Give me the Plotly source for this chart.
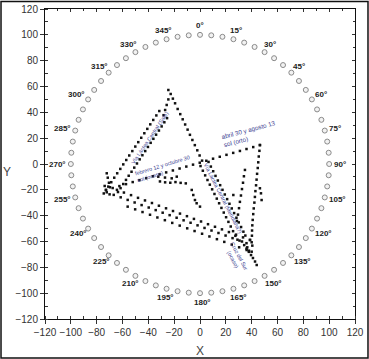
import math
import plotly.graph_objects as go

# ---------------- data ----------------
HORIZON_AZ = [0, 5, 10, 15, 20, 25, 30, 35, 40, 45, 50, 55, 60, 65, 70, 75, 80, 85,
              90, 95, 100, 105, 110, 115, 120, 125, 130, 135, 140, 145, 150, 155, 160, 165, 170, 175,
              180, 185, 190, 195, 200, 205, 210, 215, 220, 225, 230, 235, 240, 245, 250, 255, 260, 265,
              270, 275, 280, 285, 290, 295, 300, 305, 310, 315, 320, 325, 330, 335, 340, 345, 350, 355]
HORIZON_R = 100
LABEL_AZ = [0, 15, 30, 45, 60, 75, 90, 105, 120, 135, 150, 165,
            180, 195, 210, 225, 240, 255, 270, 285, 300, 315, 330, 345]

# apex -> top of the "Sale" band
APEX_X = [-24.5, -24.5, -25.8, -27.0, -28.2]
APEX_Y = [57.3, 50.0, 45.7, 41.8, 37.8]

# Vía Láctea (Sale) band, two lines
SALE_A_X = [-31.5, -33.8, -36.2, -38.5, -40.8, -43.1, -45.5, -47.8, -50.1, -52.4, -54.8, -57.1,
            -59.4, -61.7, -64.1, -66.4, -68.7, -71.0, -72.8]
SALE_A_Y = [41.0, 37.6, 34.1, 30.7, 27.2, 23.8, 20.3, 16.9, 13.5, 10.0, 6.6, 3.1,
            -0.3, -3.8, -7.2, -10.6, -14.1, -17.5, -20.1]
SALE_B_X = [-25.5, -27.6, -29.7, -31.8, -34.0, -36.1, -38.2, -40.3, -42.4, -44.6, -46.7, -48.8,
            -50.9, -53.0, -55.2, -57.3, -59.4, -61.5, -63.5]
SALE_B_Y = [35.5, 32.3, 29.1, 25.9, 22.7, 19.5, 16.4, 13.2, 10.0, 6.8, 3.6, 0.4,
            -2.8, -6.0, -9.1, -12.3, -15.5, -18.7, -21.7]

# Vía Láctea (Meridiana): single upper part, double middle part, single lower part
MER_U_X = [-22.7, -21.0, -19.3, -17.3, -15.3, -13.4, -11.5, -9.6, -7.8, -5.9, -4.0, -2.1, -0.3, 1.6]
MER_U_Y = [54.2, 50.6, 47.0, 42.6, 38.6, 34.6, 30.6, 26.6, 22.6, 18.6, 14.6, 10.6, 6.6, 2.6]
MER_L_X = [0.4, 2.2, 4.0, 5.8, 7.6, 9.4, 11.2, 13.0, 14.8, 16.6, 18.4, 20.2, 22.0, 23.8, 25.6,
           27.4, 29.0]
MER_L_Y = [-1.6, -5.2, -8.8, -12.4, -16.0, -19.6, -23.2, -26.8, -30.4, -34.0, -37.6, -41.2, -44.8,
           -48.4, -52.0, -55.6, -58.6]
MER_R_X = [6.6, 8.4, 10.2, 12.0, 13.8, 15.6, 17.4, 19.2, 21.0, 22.8, 24.6, 26.4, 28.2, 30.0, 31.8,
           33.6, 35.1]
MER_R_Y = [1.6, -2.0, -5.6, -9.2, -12.8, -16.4, -20.0, -23.6, -27.2, -30.8, -34.4, -38.0, -41.6,
           -45.2, -48.8, -52.4, -55.4]
MER_D_X = [32.5, 34.2, 36.0, 37.8, 39.5, 41.0, 42.6, 43.9]
MER_D_Y = [-60.0, -62.8, -65.5, -68.0, -70.5, -72.8, -75.5, -78.2]

# sun line (ocaso feb 12 / oct 30 - orto abr 30 / ago 13)
SUN_X = [-72.8, -67.6, -62.4, -57.3, -52.1, -46.9, -41.7, -36.5, -31.3, -26.2, -21.0, -15.8,
         -10.6, -5.4, -0.2, 4.9, 10.1, 15.3, 20.5, 25.7, 30.9, 36.0, 41.2, 46.4]
SUN_Y = [-20.1, -18.6, -17.1, -15.6, -14.0, -12.5, -11.0, -9.5, -8.0, -6.5, -5.0, -3.5,
         -2.0, -0.5, 1.0, 2.5, 4.1, 5.6, 7.1, 8.6, 10.1, 11.6, 13.1, 14.6]

# right column
RCOL_X = [46.4, 46.0, 45.5, 45.1, 44.7, 44.2, 43.8, 43.4, 42.9, 42.5, 42.1, 41.6, 41.2, 40.8]
RCOL_Y = [14.7, 10.2, 5.8, 1.3, -3.1, -7.6, -12.1, -16.5, -21.0, -25.5, -29.9, -34.4, -38.8, -43.3]
RCOL2_X = [46.4, 47.2, 47.7]
RCOL2_Y = [-18.8, -22.7, -27.9]
ICOL_X = [34.8, 34.0, 33.3, 32.5, 31.7, 30.9, 30.2, 29.4, 28.6]
ICOL_Y = [-4.6, -9.5, -14.5, -19.4, -24.4, -29.3, -34.2, -39.2, -44.1]

# lower lines from the western vertex
LOW1_X = [-69.7, -64.3, -58.9, -53.4, -48.0, -42.6, -37.2, -31.8, -26.3, -20.9, -15.5, -10.1,
          -4.7, 0.8, 6.2, 11.6, 17.0, 22.4, 27.9, 33.3, 38.7]
LOW1_Y = [-18.0, -20.0, -22.1, -24.1, -26.2, -28.2, -30.2, -32.3, -34.3, -36.4, -38.4, -40.4,
          -42.5, -44.5, -46.6, -48.6, -50.6, -52.7, -54.7, -56.8, -58.8]
LOW2_X = [-72.2, -66.8, -61.4, -56.0, -50.6, -45.2, -39.7, -34.3, -28.9, -23.5, -18.1, -12.7,
          -7.3, -1.9, 3.5, 8.9, 14.3, 19.8, 25.2, 30.6, 36.0]
LOW2_Y = [-21.9, -23.9, -25.8, -27.8, -29.8, -31.8, -33.7, -35.7, -37.7, -39.6, -41.6, -43.6,
          -45.5, -47.5, -49.5, -51.5, -53.4, -55.4, -57.4, -59.3, -61.3]
LOW3_X = [-56.0, -50.2, -44.5, -38.7, -33.0, -27.2, -21.5, -15.7, -9.9, -4.2, 1.6, 7.3,
          13.1, 18.8, 24.6, 30.3, 36.1]
LOW3_Y = [-33.0, -35.1, -37.2, -39.3, -41.4, -43.5, -45.6, -47.7, -49.8, -51.9, -54.0, -56.1,
          -58.2, -60.3, -62.4, -64.5, -66.6]

# scattered interior dots and vertex clusters
INNER_X = [-31.0, -27.0, -23.0, -19.0, -15.0, -11.0, -32.3, -27.1, -21.9, -18.0,
           -6.4, -5.2, -3.9, -2.6, 0.0, 25.8]
INNER_Y = [-13.5, -14.2, -14.5, -14.0, -14.6, -15.0, -9.8, -10.5, -11.1, -9.8,
           -20.1, -24.0, -27.9, -30.4, -33.0, -24.0]
WEST_X = [-72.2, -71.4, -70.5, -73.8, -74.5, -70.0]
WEST_Y = [-7.2, -10.6, -14.5, -17.0, -22.8, -23.5]
SOUTH_X = [38.7, 40.0, 40.5, 40.0, 37.9, 36.6, 40.5, 40.3, 40.2]
SOUTH_Y = [-58.8, -60.6, -63.2, -67.9, -67.1, -64.5, -47.5, -51.5, -55.5]

DOT_SERIES = [
    (APEX_X, APEX_Y), (SALE_A_X, SALE_A_Y), (SALE_B_X, SALE_B_Y),
    (MER_U_X, MER_U_Y), (MER_L_X, MER_L_Y), (MER_R_X, MER_R_Y), (MER_D_X, MER_D_Y),
    (SUN_X, SUN_Y), (RCOL_X, RCOL_Y), (RCOL2_X, RCOL2_Y), (ICOL_X, ICOL_Y),
    (LOW1_X, LOW1_Y), (LOW2_X, LOW2_Y), (LOW3_X, LOW3_Y),
    (INNER_X, INNER_Y), (WEST_X, WEST_Y), (SOUTH_X, SOUTH_Y),
]

# ---------------- figure ----------------
fig = go.Figure()

hx = [HORIZON_R * math.sin(math.radians(a)) for a in HORIZON_AZ]
hy = [HORIZON_R * math.cos(math.radians(a)) for a in HORIZON_AZ]
fig.add_trace(go.Scatter(
    x=hx, y=hy, mode="markers", hoverinfo="skip",
    marker=dict(symbol="circle", size=5, color="#f2f2f2", line=dict(color="#8a8a8a", width=1)),
))

for sx, sy in DOT_SERIES:
    fig.add_trace(go.Scatter(
        x=sx, y=sy, mode="markers", hoverinfo="skip",
        marker=dict(symbol="square", size=2.5, color="#111111", line=dict(width=0)),
    ))

# dummy trace for mirrored (top/right) axes
fig.add_trace(go.Scatter(x=[None], y=[None], xaxis="x2", yaxis="y2", showlegend=False))

annotations = []
for a in LABEL_AZ:
    txt = f"{a}°"
    w = 4.7 * len(txt)
    s, c = math.sin(math.radians(a)), math.cos(math.radians(a))
    annotations.append(dict(
        x=HORIZON_R * s, y=HORIZON_R * c, text=f"<b>{txt}</b>", showarrow=False,
        xanchor="center", yanchor="middle",
        xshift=s * (4 + w / 2) + (2 if c < -0.5 else 0), yshift=c * 9,
        font=dict(family="Liberation Sans, Arial", size=8, color="#222222"),
    ))

note_font = dict(family="Liberation Sans, Arial", size=5.5, color="#3d3f92")
annotations += [
    dict(x=-39.0, y=20.1, text="Vía Láctea Central (Sale)", textangle=-56,
         showarrow=False, font=note_font),
    dict(x=17.6, y=-26.5, text="Vía Láctea Central (Meridiana?)", textangle=63,
         showarrow=False, font=note_font),
    dict(x=-28.0, y=-3.6, text="febrero 12 y octubre 30<br>sol (ocaso)", textangle=-17,
         align="left", showarrow=False, font=note_font),
    dict(x=38.5, y=23.0, text="abril 30 y agosto 13<br>sol (orto)", textangle=-15,
         align="left", showarrow=False, font=dict(note_font, size=6.3)),
    dict(x=28.5, y=-72.8, text="Cruz del Sur<br>(ocaso)", textangle=62,
         showarrow=False, font=note_font),
    dict(xref="paper", yref="paper", x=0.5, y=-0.102, text="X", showarrow=False,
         xanchor="center", yanchor="middle",
         font=dict(family="Liberation Sans, Arial", size=12, color="#444444")),
    dict(xref="paper", yref="paper", x=-0.1235, y=0.474, text="Y", showarrow=False,
         xanchor="center", yanchor="middle",
         font=dict(family="Liberation Sans, Arial", size=12, color="#444444")),
]

axis_common = dict(
    range=[-120, 120], dtick=20, tick0=0, showgrid=False, zeroline=False,
    showline=True, linecolor="#111111", linewidth=1, automargin=False,
    tickfont=dict(family="Liberation Sans, Arial", size=10, color="#333333"),
)
fig.update_layout(
    width=369, height=359,
    margin=dict(l=45, r=14, t=9, b=40, autoexpand=False),
    paper_bgcolor="white", plot_bgcolor="white",
    showlegend=False,
    xaxis=dict(axis_common, ticks="outside", ticklen=4, tickcolor="#333333", mirror=True,
               minor=dict(ticks="inside", dtick=10, ticklen=3, tickcolor="#333333")),
    yaxis=dict(axis_common, ticks="outside", ticklen=4, tickcolor="#333333", mirror=True,
               minor=dict(ticks="inside", dtick=10, ticklen=3, tickcolor="#333333")),
    xaxis2=dict(range=[-120, 120], dtick=20, tick0=0, overlaying="x", side="top", anchor="y",
                showgrid=False, zeroline=False, showticklabels=False, ticks="inside",
                ticklen=3, tickcolor="#333333", automargin=False,
                minor=dict(ticks="inside", dtick=10, ticklen=2, tickcolor="#333333")),
    yaxis2=dict(range=[-120, 120], dtick=20, tick0=0, overlaying="y", side="right", anchor="x",
                showgrid=False, zeroline=False, showticklabels=False, ticks="inside",
                ticklen=3, tickcolor="#333333", automargin=False,
                minor=dict(ticks="inside", dtick=10, ticklen=2, tickcolor="#333333")),
    annotations=annotations,
    shapes=[dict(type="rect", xref="paper", yref="paper",
                 x0=-0.1419, x1=1.0419, y0=-0.1256, y1=1.0242,
                 line=dict(color="#111111", width=1.5), fillcolor="rgba(0,0,0,0)")],
)

fig.write_html("out.html", config={"displayModeBar": False},
               post_script="document.body.style.margin='0px';"
               "document.body.style.overflow='hidden';")
